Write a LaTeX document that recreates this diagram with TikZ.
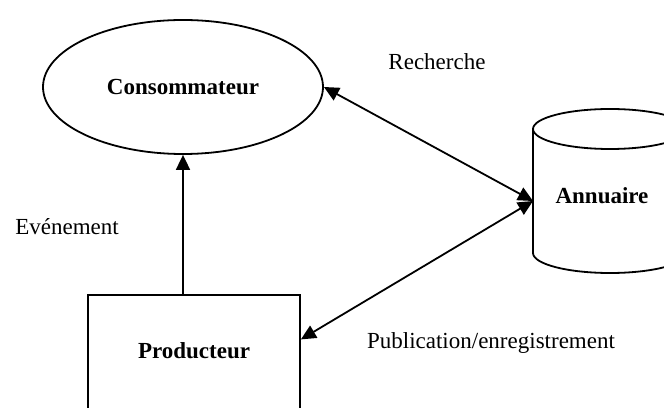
\documentclass[tikz,border=0pt]{standalone}
\usepackage{fontspec}
\setmainfont{Liberation Serif}
\usetikzlibrary{shapes.geometric,arrows.meta}

\begin{document}
\begin{tikzpicture}
		[%%%%%%%%%%%%%%%%%%%%%%%%%%%%%%
		x=1pt,y=1pt,
		>={Triangle[length=15pt,width=14pt]},
		every node/.style={font=\fontsize{23}{27}\selectfont},
		trait/.style={line width=1.8pt},
		titre/.style={font=\fontsize{23}{27}\selectfont\bfseries},
		box/.style={rectangle,draw=black,line width=1.8pt,minimum width=212pt,minimum height=216pt},
		oval/.style={ellipse,draw=black,line width=1.8pt,minimum width=280pt,minimum height=134pt,inner sep=0pt},
		]%%%%%%%%%%%%%%%%%%%%%%%%%%%%%%
		
		\useasboundingbox (0,0) rectangle (664,407);
		\clip (0,0) rectangle (664,407);
		
		\node[oval,titre] (consommateur) at (183,320) {Consommateur};
		\node[box] (producteur) at (194,4) {};
		\node[titre] (producteur-texte) at (194,56) {Producteur};
		
		% annuaire
		\draw[trait] (533,278) -- (533,154) arc[start angle=180,end angle=360,x radius=77pt,y radius=20pt] -- (687,278);
		\draw[trait] (610,278) ellipse [x radius=77pt,y radius=20pt];
		\node[titre] (annuaire) at (602,211) {Annuaire};
		\coordinate (annuaire-port) at (533,206);
		
		\draw[trait,->] (consommateur.south |- producteur.north) -- (consommateur.south);
		\draw[trait,<->] (consommateur.east) -- (annuaire-port);
		\draw[trait,<->] (annuaire-port) -- (producteur);
		
		\node (recherche) at (437,345) {Recherche};
		\node (evenement) at (67,180) {Evénement};
		\node (publication) at (491,64) {Publication/enregistrement};
		\end{tikzpicture}
\end{document}
